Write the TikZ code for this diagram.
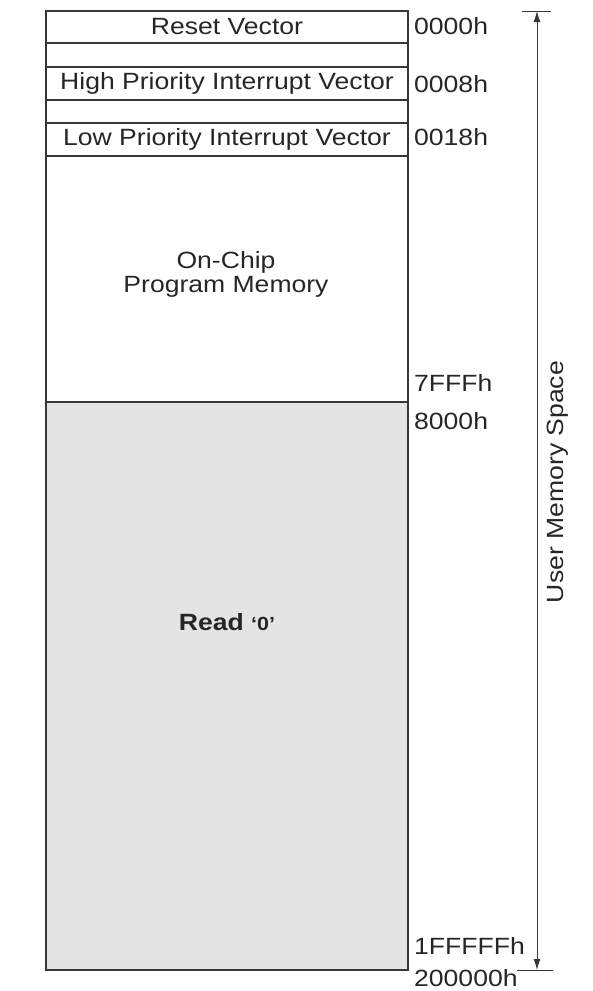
\documentclass[tikz,border=0pt]{standalone}
\usepackage{fontspec}
\setmainfont{Liberation Sans}[FakeStretch=1.13]
\usetikzlibrary{positioning,arrows.meta}
\definecolor{readgray}{RGB}{228,228,228}
\definecolor{edge}{RGB}{55,55,55}

\begin{document}
\begin{tikzpicture}[
	x=1pt, y=-1pt,
	font=\fontsize{23.5}{24}\selectfont,
	text=black!85,
	>={Latex[length=11pt,width=7pt]},
	cell/.style={draw=edge, line width=1.3pt, minimum width=362pt,
		inner sep=0pt, outer sep=0pt},
	addr/.style={anchor=west, inner sep=0pt}]
\useasboundingbox (0,0) rectangle (593,991);

% program memory blocks, top to bottom
\node[cell, minimum height=32pt, anchor=north] (reset) at (227,11) {Reset Vector};
\node[cell, minimum height=24pt, below=0pt of reset] (gapA) {};
\node[cell, minimum height=33pt, below=0pt of gapA] (high) {High Priority Interrupt Vector};
\node[cell, minimum height=23pt, below=0pt of high] (gapB) {};
\node[cell, minimum height=33pt, below=0pt of gapB] (low) {Low Priority Interrupt Vector};
\node[cell, minimum height=246pt, below=0pt of low] (onchip) {};
\node[cell, minimum height=568pt, below=0pt of onchip, fill=readgray] (readzero) {};
\node[align=center] (onchiptext) at (226,274) {On-Chip\\Program Memory};
\node (readtext) at (227,622)
	{\textbf{Read} {\fontsize{19}{19}\selectfont\textbf{‘0’}}};

% addresses
\node[addr] (aReset) at (414,26) {0000h};
\node[addr] (aHigh) at (414,84) {0008h};
\node[addr] (aLow) at (414,137) {0018h};
\node[addr] (aEnd) at (414,383) {7FFFh};
\node[addr] (aRead) at (414,421) {8000h};
\node[addr] (aLast) at (414,946) {1FFFFFh};
\node[addr] (aTop) at (414,978) {200000h};

% user memory span
\coordinate (spanTop) at (537,11);
\coordinate (spanBot) at (537,970);
\draw[line width=1pt, edge] (spanTop) ++(-15,0) -- ++(29,0);
\draw[line width=1pt, edge] (spanBot) ++(-20,0) -- ++(36,0);
\draw[line width=1pt, edge, <->] (spanTop) -- (spanBot);
\node[rotate=90] (span) at (558,482) {User Memory Space};
\end{tikzpicture}
\end{document}
